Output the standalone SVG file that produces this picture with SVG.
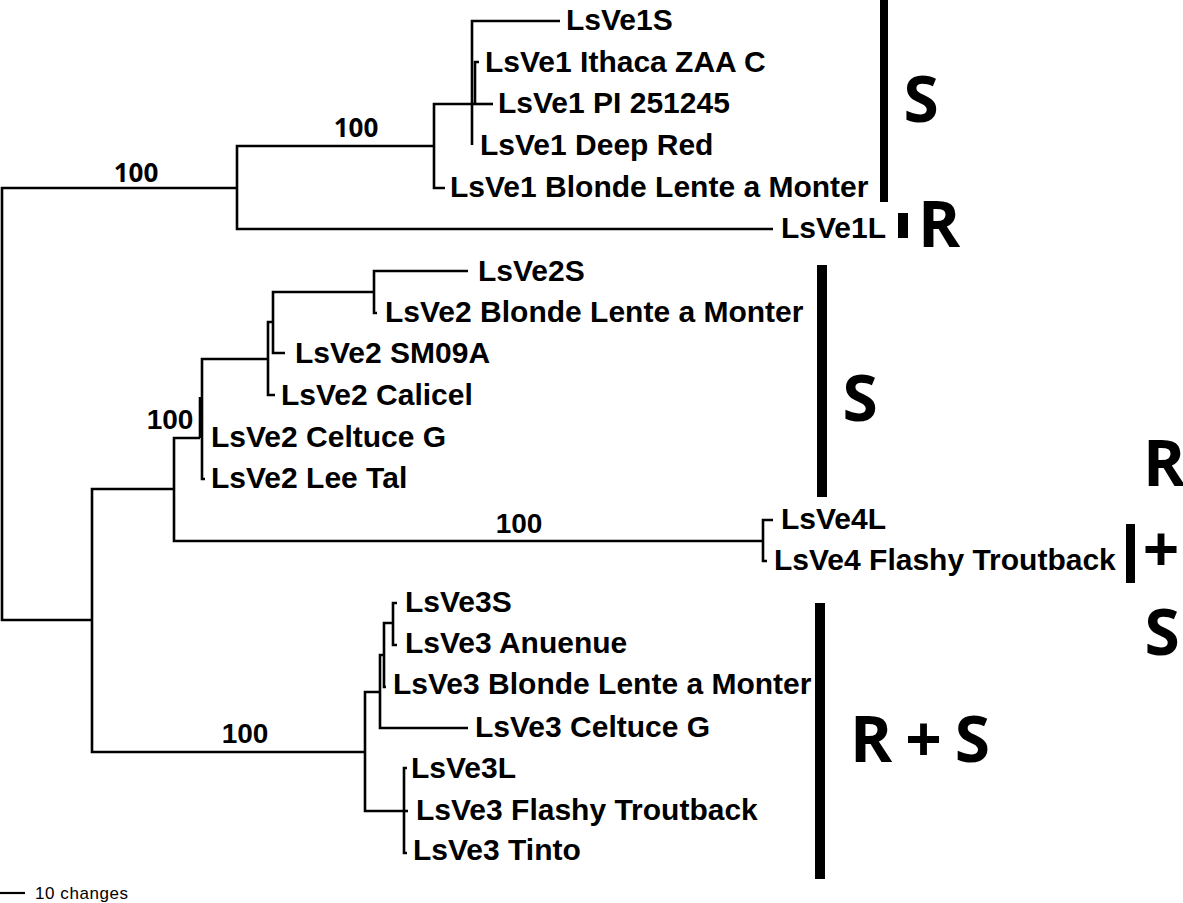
<svg xmlns="http://www.w3.org/2000/svg" width="1183" height="903" viewBox="0 0 1183 903">
<style>
.br{fill:none;stroke:#000;stroke-width:2.6;stroke-linejoin:miter}
.lab{font-family:"Liberation Sans",Arial,sans-serif;font-weight:bold;font-size:30px;fill:#000}
.bs{font-family:"Liberation Sans",Arial,sans-serif;font-weight:bold;font-size:28px;text-anchor:middle;fill:#000}
.bs2{font-family:"Open Sans","Noto Sans",sans-serif;font-weight:bold;font-size:26px;text-anchor:middle;fill:#000}
.big{font-family:"Open Sans","Noto Sans",sans-serif;font-weight:bold;font-size:64px;text-anchor:middle;fill:#000}
.bar{fill:#000}
.scale{font-family:"Liberation Sans",Arial,sans-serif;font-size:17px;fill:#000}
</style>
<rect width="1183" height="903" fill="#fff"/>
<g id="connectors">
<path class="br" d="M237,188 H2 V620 H92"/>
<path class="br" d="M433,146 H237 V229 H773"/>
<path class="br" d="M472,104 H434 V188 H445"/>
<path class="br" d="M560,21 H472 V145"/>
<path class="br" d="M472,104 H493"/>
<path class="br" d="M479,62 H475 V104"/>
<path class="br" d="M174,489 H92 V752 H365"/>
<path class="br" d="M200,438 H174 V541 H763"/>
<path class="br" d="M268,359 H202 V479 H205"/>
<path class="br" d="M200,397 V438"/>
<path class="br" d="M273,322 H268 V395 H275"/>
<path class="br" d="M374,292 H273 V353 H285"/>
<path class="br" d="M468,271 H374 V313 H377"/>
<path class="br" d="M773,520 H763 V561 H767"/>
<path class="br" d="M380,692 H365 V811 H404"/>
<path class="br" d="M384,655 H380 V728 H468"/>
<path class="br" d="M393,623 H384 V687 H386"/>
<path class="br" d="M397,603 H393 V645 H397"/>
<path class="br" d="M407,768 H404 V853 H407"/>
<path class="br" d="M404,811 H408"/>
</g>
<g id="bootstrap">
<text class="bs2" x="136" y="182">100</text>
<text class="bs2" x="356" y="137">100</text>
<text class="bs" x="170" y="429">100</text>
<text class="bs" x="519" y="533">100</text>
<text class="bs" x="245" y="743">100</text>
</g>
<g id="leaf-LsVe1S"><text class="lab" x="566" y="30">LsVe1S</text></g>
<g id="leaf-LsVe1-Ithaca"><text class="lab" x="485" y="72">LsVe1 Ithaca ZAA C</text></g>
<g id="leaf-LsVe1-PI"><text class="lab" x="498" y="113">LsVe1 PI 251245</text></g>
<g id="leaf-LsVe1-DeepRed"><text class="lab" x="480" y="155">LsVe1 Deep Red</text></g>
<g id="leaf-LsVe1-Blonde"><text class="lab" x="450" y="197">LsVe1 Blonde Lente a Monter</text></g>
<g id="leaf-LsVe1L"><text class="lab" x="781" y="238">LsVe1L</text></g>
<g id="leaf-LsVe2S"><text class="lab" x="478" y="281">LsVe2S</text></g>
<g id="leaf-LsVe2-Blonde"><text class="lab" x="385" y="322">LsVe2 Blonde Lente a Monter</text></g>
<g id="leaf-LsVe2-SM09A"><text class="lab" x="295" y="363">LsVe2 SM09A</text></g>
<g id="leaf-LsVe2-Calicel"><text class="lab" x="281" y="405">LsVe2 Calicel</text></g>
<g id="leaf-LsVe2-Celtuce"><text class="lab" x="211" y="447">LsVe2 Celtuce G</text></g>
<g id="leaf-LsVe2-LeeTal"><text class="lab" x="211" y="488">LsVe2 Lee Tal</text></g>
<g id="leaf-LsVe4L"><text class="lab" x="781" y="529">LsVe4L</text></g>
<g id="leaf-LsVe4-Flashy"><text class="lab" x="774" y="570">LsVe4 Flashy Troutback</text></g>
<g id="leaf-LsVe3S"><text class="lab" x="405" y="612">LsVe3S</text></g>
<g id="leaf-LsVe3-Anuenue"><text class="lab" x="405" y="653">LsVe3 Anuenue</text></g>
<g id="leaf-LsVe3-Blonde"><text class="lab" x="393" y="694">LsVe3 Blonde Lente a Monter</text></g>
<g id="leaf-LsVe3-Celtuce"><text class="lab" x="475" y="737">LsVe3 Celtuce G</text></g>
<g id="leaf-LsVe3L"><text class="lab" x="411" y="778">LsVe3L</text></g>
<g id="leaf-LsVe3-Flashy"><text class="lab" x="416" y="820">LsVe3 Flashy Troutback</text></g>
<g id="leaf-LsVe3-Tinto"><text class="lab" x="413" y="860">LsVe3 Tinto</text></g>
<g id="annot-1-S"><rect class="bar" x="880" y="0" width="8" height="202"/><text class="big" x="921" y="122">S</text></g>
<g id="annot-1-R"><rect class="bar" x="898" y="213" width="10" height="25"/><text class="big" x="939" y="247">R</text></g>
<g id="annot-2-S"><rect class="bar" x="817" y="265" width="10" height="232"/><text class="big" x="860" y="421">S</text></g>
<g id="annot-4"><rect class="bar" x="1126" y="524" width="9" height="59"/><text class="big" x="1164" y="486">R</text><text class="big" x="1161" y="572">+</text><text class="big" x="1162" y="655">S</text></g>
<g id="annot-3"><rect class="bar" x="815" y="603" width="10" height="276"/><text class="big" x="920" y="762" textLength="140" lengthAdjust="spacing">R + S</text></g>
<g id="scale">
<path class="br" d="M0,893 H25" style="stroke-width:2.2"/>
<text class="scale" x="35" y="899" textLength="93" lengthAdjust="spacing">10 changes</text>
</g>
</svg>
